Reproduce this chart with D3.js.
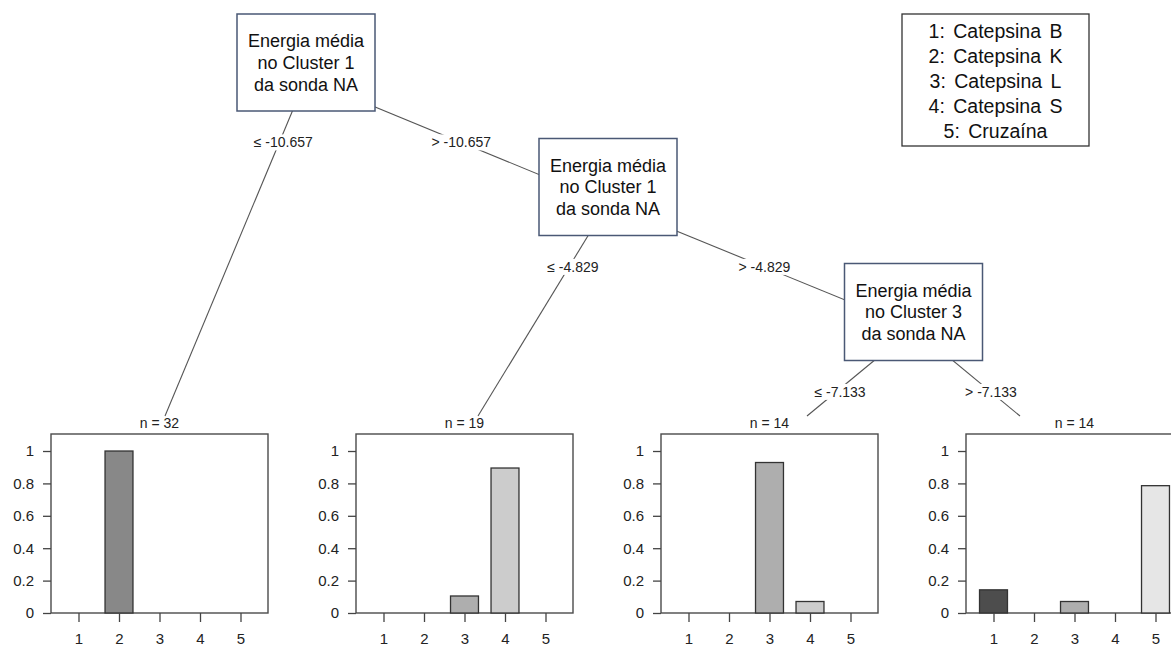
<!DOCTYPE html>
<html>
<head>
<meta charset="utf-8">
<script src="https://cdn.jsdelivr.net/npm/d3@7"></script>
<style>
  body { margin: 0; background: #fff; }
  text { font-family: "Liberation Sans", Arial, sans-serif; }
</style>
</head>
<body>
<div id="chart"></div>
<script>
// classes shown in every leaf
var classes = ["1", "2", "3", "4", "5"];
var classNames = ["Catepsina B", "Catepsina K", "Catepsina L", "Catepsina S", "Cruzaína"];
var classColors = ["#4d4d4d", "#888888", "#aeaeae", "#cccccc", "#e6e6e6"];

// inner node texts and split points
var nodeLines = [
  ["Energia média", "no Cluster 1", "da sonda NA"],
  ["Energia média", "no Cluster 1", "da sonda NA"],
  ["Energia média", "no Cluster 3", "da sonda NA"]
];
var splitPoints = ["-10.657", "-4.829", "-7.133"];

// terminal nodes
var leafN = [32, 19, 14, 14];
var leafProps = [
  [0, 1, 0, 0, 0],
  [0, 0, 0.105, 0.895, 0],
  [0, 0, 0.929, 0.071, 0],
  [0.143, 0, 0.071, 0, 0.786]
];
var yTicks = [0, 0.2, 0.4, 0.6, 0.8, 1];

// tree structure: each inner node -> [left child, right child]
var children = [
  [{leaf: 0}, {node: 1}],
  [{leaf: 1}, {node: 2}],
  [{leaf: 2}, {leaf: 3}]
];

function createChart() {
  var svgWidth = 1171, svgHeight = 646;

  var svg = d3.select("#chart")
    .append("svg")
    .attr("width", svgWidth)
    .attr("height", svgHeight);

  // layout
  var nodeCenters = [[306, 62.5], [608, 187], [913.5, 312]];
  var boxW = 138, boxH = 97;
  var anchorDy = 16;
  var leafEnds = [165, 478, 807, 1020];
  var leafTopY = 416;
  var panelLeft = [51, 356, 661, 966];
  var panelW = 217, panelBottom = 613;

  function anchor(c) {
    if (c.leaf !== undefined) return [leafEnds[c.leaf], leafTopY];
    return [nodeCenters[c.node][0], nodeCenters[c.node][1] + anchorDy];
  }

  // edges first
  var edgeGroup = svg.append("g");
  var labels = [];
  children.forEach(function(kids, i) {
    var p = [nodeCenters[i][0], nodeCenters[i][1] + anchorDy];
    kids.forEach(function(k, j) {
      var c = anchor(k);
      edgeGroup.append("line")
        .attr("x1", p[0]).attr("y1", p[1])
        .attr("x2", c[0]).attr("y2", c[1])
        .attr("stroke", "#555")
        .attr("stroke-width", 1.1);
      var ly = p[1] + 64;
      var lx = p[0] + (c[0] - p[0]) * (ly - p[1]) / (c[1] - p[1]);
      labels.push({x: lx + (j === 0 ? 4 : 0), y: ly,
        text: (j === 0 ? "\u2264 " : "> ") + splitPoints[i]});
    });
  });

  // edge labels with white background
  labels.forEach(function(l) {
    var g = svg.append("g");
    var bg = g.append("rect").attr("fill", "white");
    var t = g.append("text")
      .attr("x", l.x).attr("y", l.y)
      .attr("dy", "0.35em")
      .attr("text-anchor", "middle")
      .style("font-size", "14px")
      .attr("fill", "#222")
      .text(l.text);
    var bb = t.node().getBBox();
    bg.attr("x", bb.x - 1).attr("y", bb.y)
      .attr("width", bb.width + 2).attr("height", bb.height);
  });

  // inner node boxes
  nodeCenters.forEach(function(c, i) {
    svg.append("rect")
      .attr("x", c[0] - boxW / 2).attr("y", c[1] - boxH / 2)
      .attr("width", boxW).attr("height", boxH)
      .attr("fill", "white")
      .attr("stroke", "#4a5875")
      .attr("stroke-width", 1.5);
    svg.append("text")
      .attr("text-anchor", "middle")
      .style("font-size", "18px")
      .attr("fill", "#111")
      .selectAll("tspan")
      .data(nodeLines[i])
      .enter()
      .append("tspan")
      .attr("x", c[0])
      .attr("y", function(d, k) { return c[1] + (k - 1) * 21.7; })
      .attr("dy", "0.35em")
      .text(function(d) { return d; });
  });

  // terminal bar panels
  var yScale = d3.scaleLinear().domain([0, 1.105]).range([panelBottom, panelBottom - 179]);

  leafProps.forEach(function(props, i) {
    var left = panelLeft[i];
    var xScale = d3.scaleBand()
      .domain(classes)
      .range([left, left + panelW])
      .paddingInner(0.31)
      .paddingOuter(0.334);

    var g = svg.append("g");

    g.append("rect")
      .attr("x", left).attr("y", yScale(1.105))
      .attr("width", panelW).attr("height", panelBottom - yScale(1.105))
      .attr("fill", "white")
      .attr("stroke", "#4a4a4a")
      .attr("stroke-width", 1.4);

    g.append("text")
      .attr("x", left + panelW / 2)
      .attr("y", yScale(1.105) - 6)
      .attr("text-anchor", "middle")
      .style("font-size", "14px")
      .attr("fill", "#222")
      .text("n = " + leafN[i]);

    g.selectAll(".bar")
      .data(props)
      .enter()
      .append("rect")
      .attr("x", function(d, k) { return xScale(classes[k]); })
      .attr("y", function(d) { return yScale(d); })
      .attr("width", xScale.bandwidth())
      .attr("height", function(d) { return panelBottom - yScale(d); })
      .attr("fill", function(d, k) { return classColors[k]; })
      .attr("stroke", function(d) { return d > 0 ? "#333" : "none"; })
      .attr("stroke-width", 1.3);

    var yAxis = d3.axisLeft(yScale)
      .tickValues(yTicks)
      .tickFormat(function(d) { return d3.format("~g")(d); })
      .tickSize(8)
      .tickPadding(9);
    var ya = g.append("g")
      .attr("transform", "translate(" + left + ",0)")
      .call(yAxis);
    ya.select(".domain").remove();

    var xAxis = d3.axisBottom(d3.scalePoint().domain(classes)
        .range([xScale(classes[0]) + xScale.bandwidth() / 2,
                xScale(classes[4]) + xScale.bandwidth() / 2]))
      .tickSize(9)
      .tickPadding(11);
    var xa = g.append("g")
      .attr("transform", "translate(0," + panelBottom + ")")
      .call(xAxis);
    xa.select(".domain").remove();

    [ya, xa].forEach(function(a) {
      a.attr("font-size", null).attr("font-family", null);
      a.selectAll("line").attr("stroke", "#444").attr("stroke-width", 1.3);
      a.selectAll("text")
        .style("font-size", "15px")
        .attr("fill", "#222");
    });
  });

  // legend
  svg.append("rect")
    .attr("x", 902).attr("y", 14)
    .attr("width", 187).attr("height", 132)
    .attr("fill", "white")
    .attr("stroke", "#333")
    .attr("stroke-width", 1.3);

  svg.append("g")
    .selectAll("text")
    .data(classNames)
    .enter()
    .append("text")
    .attr("x", 995.5)
    .attr("y", function(d, i) { return 37.7 + i * 25; })
    .attr("text-anchor", "middle")
    .style("font-size", "19.5px")
    .attr("word-spacing", "3px")
    .attr("fill", "#111")
    .text(function(d, i) { return classes[i] + ": " + d; });
}

createChart();
</script>
</body>
</html>
